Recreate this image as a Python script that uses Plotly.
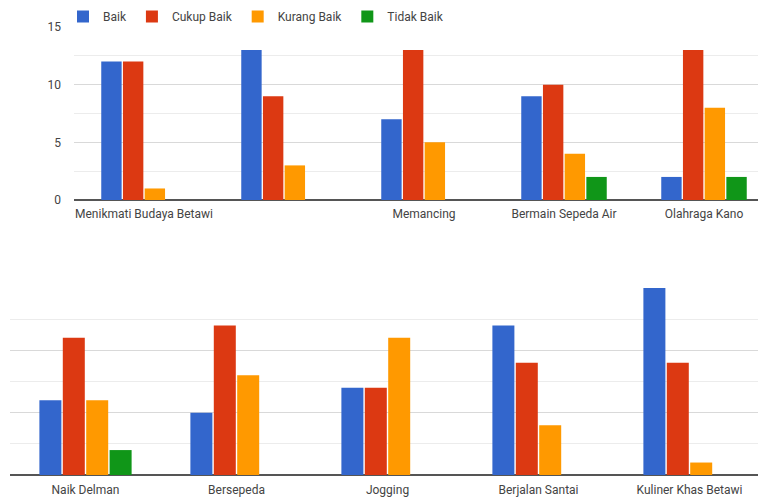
import plotly.graph_objects as go

series_names = ["Baik", "Cukup Baik", "Kurang Baik", "Tidak Baik"]
colors = ["#3366cc", "#dc3912", "#ff9900", "#109618"]

top_categories = ["Menikmati Budaya Betawi", " ", "Memancing", "Bermain Sepeda Air", "Olahraga Kano"]
top_baik = [12, 13, 7, 9, 2]
top_cukup = [12, 9, 13, 10, 13]
top_kurang = [1, 3, 5, 4, 8]
top_tidak = [0, 0, 0, 2, 2]

bottom_categories = ["Naik Delman", "Bersepeda", "Jogging", "Berjalan Santai", "Kuliner Khas Betawi"]
bottom_baik = [6, 5, 7, 12, 15]
bottom_cukup = [11, 12, 7, 9, 9]
bottom_kurang = [6, 8, 11, 4, 1]
bottom_tidak = [2, 0, 0, 0, 0]

y_ticks = [0, 5, 10, 15]

W, H = 758, 500
fig = go.Figure()

top_vals = [top_baik, top_cukup, top_kurang, top_tidak]
bot_vals = [bottom_baik, bottom_cukup, bottom_kurang, bottom_tidak]
for name, col, tv, bv in zip(series_names, colors, top_vals, bot_vals):
    fig.add_trace(go.Bar(x=top_categories, y=tv, name=name, marker=dict(color=col, line_width=0),
                         xaxis="x", yaxis="y", legendgroup=name))
    fig.add_trace(go.Bar(x=bottom_categories, y=bv, name=name, marker=dict(color=col, line_width=0),
                         xaxis="x2", yaxis="y2", legendgroup=name, showlegend=False))

font_family = "Roboto, Arial, sans-serif"
grid_major = "#d9d9d9"
grid_minor = "#ececec"

fig.update_layout(
    width=W, height=H,
    margin=dict(l=0, r=0, t=0, b=0, autoexpand=False),
    paper_bgcolor="white", plot_bgcolor="white",
    barmode="group", bargap=0.38, bargroupgap=0.06,
    font=dict(family=font_family, size=12, color="#444"),
    showlegend=True,
    legend=dict(orientation="h", x=63 / W, xanchor="left", y=1 - 2 / H, yanchor="top",
                font=dict(size=12, color="#444"), bgcolor="rgba(0,0,0,0)",
                traceorder="normal", itemwidth=30),
    xaxis=dict(domain=[74 / W, 1], range=[-0.5, -0.5 + (W - 74) / 140],
               showgrid=False, showline=False, ticks="", zeroline=False,
               tickfont=dict(size=12, color="#444"), ticklabelstandoff=5, anchor="y"),
    yaxis=dict(domain=[(H - 200) / H, (H - 27) / H], range=[0, 15], tickvals=y_ticks,
               showgrid=True, gridcolor=grid_major, gridwidth=1,
               minor=dict(dtick=2.5, showgrid=True, gridcolor=grid_minor, gridwidth=1),
               zeroline=True, zerolinecolor="#555", zerolinewidth=2,
               showline=False, ticks="", tickfont=dict(size=12, color="#444"),
               ticklabelstandoff=12, anchor="x"),
    xaxis2=dict(domain=[10 / W, 1], range=[-0.5, -0.5 + (W - 10) / 151],
                showgrid=False, showline=False, ticks="", zeroline=False,
                tickfont=dict(size=12, color="#444"), ticklabelstandoff=6, anchor="y2"),
    yaxis2=dict(domain=[(H - 475) / H, (H - 288) / H], range=[0, 15], tickvals=y_ticks,
                showticklabels=False,
                showgrid=True, gridcolor=grid_major, gridwidth=1,
                minor=dict(dtick=2.5, showgrid=True, gridcolor=grid_minor, gridwidth=1),
                zeroline=True, zerolinecolor="#555", zerolinewidth=2,
                showline=False, ticks="", anchor="x2"),
)

fig.write_html("out.html")
